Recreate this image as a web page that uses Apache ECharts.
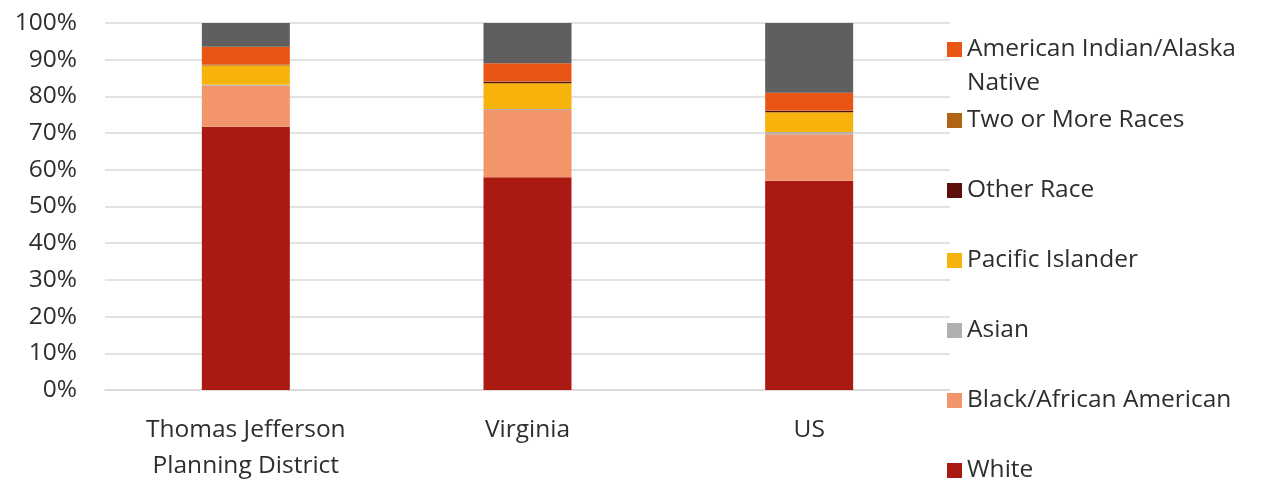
<!DOCTYPE html>
<html>
<head>
<meta charset="utf-8">
<script src="https://cdn.jsdelivr.net/npm/echarts@6/dist/echarts.min.js"></script>
<style>
html,body{margin:0;padding:0;background:#fff;}
#chart{width:1270px;height:481px;}
</style>
</head>
<body>
<div id="chart"></div>
<script>
const categories = ['Thomas Jefferson\nPlanning District', 'Virginia', 'US'];
const white = [71.7, 58.0, 57.0];
const black = [11.2, 18.3, 12.7];
const asian = [0.3, 0.3, 0.6];
const pacific = [5.2, 7.0, 5.4];
const otherRace = [0.1, 0.4, 0.4];
const twoOrMore = [0.2, 0.1, 0.1];
const amIndian = [4.8, 4.9, 4.8];
const topGrey = [6.5, 11.0, 19.0];
const yTicks = [0, 10, 20, 30, 40, 50, 60, 70, 80, 90, 100];

const FONT = '"Open Sans", "Noto Sans", sans-serif';
const TXT = '#2e2e2e';
const FS = 24.5;

const seriesDefs = [
  {name: 'White', data: white, color: '#AB1A12'},
  {name: 'Black/African American', data: black, color: '#F2956A'},
  {name: 'Asian', data: asian, color: '#B0B0B0'},
  {name: 'Pacific Islander', data: pacific, color: '#F7B20B'},
  {name: 'Other Race', data: otherRace, color: '#5C0F0B'},
  {name: 'Two or More Races', data: twoOrMore, color: '#B06514'},
  {name: 'American Indian/Alaska Native', data: amIndian, color: '#E85515'},
  {name: 'Hispanic or Latino', data: topGrey, color: '#5F5F5F'}
];

const legendItems = [
  {name: 'American Indian/Alaska Native', y: 47},
  {name: 'Two or More Races', y: 118},
  {name: 'Other Race', y: 188},
  {name: 'Pacific Islander', y: 258},
  {name: 'Asian', y: 328},
  {name: 'Black/African American', y: 398},
  {name: 'White', y: 468}
];

const legends = legendItems.map(it => ({
  data: [it.name],
  left: 947,
  top: it.y - 10,
  padding: 0,
  icon: 'rect',
  itemWidth: 15,
  itemHeight: 15,
  itemStyle: {borderWidth: 0},
  selectedMode: false,
  formatter: n => n === 'American Indian/Alaska Native' ? 'American Indian/Alaska' : n,
  textStyle: {fontFamily: FONT, fontSize: FS, color: TXT, lineHeight: 15, height: 15}
}));

const chart = echarts.init(document.getElementById('chart'));
chart.setOption({
  animation: false,
  backgroundColor: '#fff',
  grid: {left: 105, right: 320, top: 23, bottom: 91, containLabel: false, outerBoundsMode: 'none'},
  legend: legends,
  graphic: [{
    type: 'text', x: 967, y: 83,
    style: {text: 'Native', fontFamily: FONT, fontSize: FS, fill: TXT, verticalAlign: 'middle'}
  }],
  xAxis: {
    type: 'category',
    data: categories,
    axisLine: {show: true, lineStyle: {color: '#d9d9d9', width: 1.5}},
    axisTick: {show: false},
    axisLabel: {fontFamily: FONT, fontSize: FS, color: TXT, lineHeight: 36, margin: 22}
  },
  yAxis: {
    type: 'value',
    min: 0, max: 100, interval: 10,
    axisLine: {show: false},
    axisTick: {show: false},
    splitLine: {lineStyle: {color: '#d9d9d9', width: 1.5}},
    axisLabel: {fontFamily: FONT, fontSize: FS, color: TXT, margin: 28,
      formatter: v => yTicks.includes(v) ? v + '%' : ''}
  },
  series: seriesDefs.map(s => ({
    name: s.name,
    type: 'bar',
    stack: 'total',
    data: s.data,
    barWidth: 88,
    itemStyle: {color: s.color},
    emphasis: {disabled: true}
  }))
});
</script>
</body>
</html>
